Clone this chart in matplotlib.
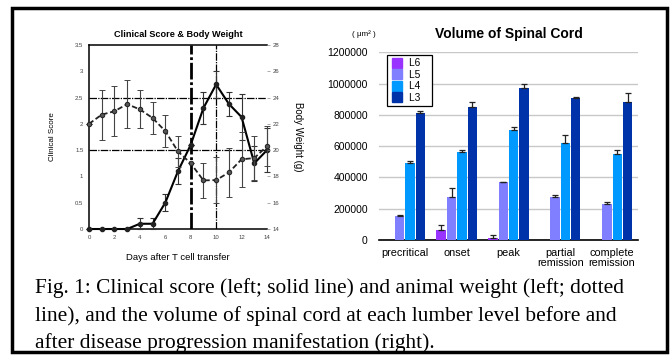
# Fig. 1: clinical score / body weight (left) and spinal cord volume (right)
import numpy as np
import matplotlib
matplotlib.use("Agg")
import matplotlib.pyplot as plt
from matplotlib.patches import Rectangle
from matplotlib.lines import Line2D

plt.rcParams["font.family"] = ["Liberation Sans", "DejaVu Sans"]

# ---- left panel data ----
days = [0, 1, 2, 3, 4, 5, 6, 7, 8, 9, 10, 11, 12, 13, 14]
score = [0, 0, 0, 0, 0.1, 0.1, 0.5, 1.1, 1.6, 2.3, 2.75, 2.38, 2.13, 1.25, 1.5]
score_err = [0, 0, 0, 0, 0.1, 0.1, 0.16, 0.25, 0.0, 0.3, 0.25, 0.23, 0.43, 0.33, 0.42]
weight = [22.0, 22.7, 22.96, 23.5, 23.1, 22.45, 21.45, 19.9, 19.0, 17.7, 17.72, 18.3, 19.3, 19.4, 20.3]
weight_err = [0, 1.9, 1.9, 1.85, 1.45, 1.2, 1.2, 1.2, 0, 1.35, 1.75, 1.9, 2.1, 1.7, 1.5]

# ---- right panel data ----
stages = ["precritical", "onset", "peak", "partial\nremission", "complete\nremission"]
levels = ["L6", "L5", "L4", "L3"]
L6 = [0, 64000, 13000, 0, 0]
L5 = [153000, 277000, 371000, 277000, 230000]
L4 = [490000, 561000, 704000, 618000, 548000]
L3 = [810000, 848000, 974000, 910000, 885000]
L6_err = [0, 30000, 19000, 0, 0]
L5_err = [5000, 58000, 3000, 8000, 13000]
L4_err = [13000, 12000, 21000, 56000, 30000]
L3_err = [17000, 32000, 22000, 3000, 57000]
colors = ["#9933ff", "#7f7fff", "#0099ff", "#0033aa"]

fig = plt.figure(figsize=(6.71, 3.56), dpi=100)

# ════════════ left: clinical score & body weight ════════════
ax = fig.add_axes([0.1326, 0.3567, 0.2653, 0.5169])
ax.set_xlim(0, 14)
ax.set_ylim(0, 3.5)
ax.set_xticks(range(0, 15, 2))
ax.set_yticks([0, 0.5, 1, 1.5, 2, 2.5, 3, 3.5])
ax.set_yticklabels(["0", "0.5", "1", "1.5", "2", "2.5", "3", "3.5"])
ax.tick_params(labelsize=4.3, labelcolor="#444", length=0, pad=4)
for s in ["left", "top", "bottom"]:
    ax.spines[s].set_linestyle((0, (3, 1)))
    ax.spines[s].set_linewidth(1.1)
ax.spines["right"].set_visible(False)
for yv in (1.5, 2.5):
    ax.axhline(yv, color="black", lw=0.9, ls=(0, (6, 1, 1, 1)), zorder=1)
ax.axvline(8, color="black", lw=2.0, ls=(0, (6, 1, 1, 1)), zorder=1)
ax.axvline(10, color="black", lw=0.9, ls=(0, (6, 1, 1, 1)), zorder=1)

ax.errorbar(days, score, yerr=score_err, color="black", lw=1.5, marker="o", ms=3.0,
            mfc="#222", mec="#222", ecolor="#333", elinewidth=0.8, capsize=2.2,
            capthick=0.8, zorder=4, clip_on=False)
ax.set_ylabel("Clinical Score", fontsize=5.8, labelpad=14)
ax.set_xlabel("Days after T cell transfer", fontsize=6.8, labelpad=10)
ax.set_title("Clinical Score & Body Weight", fontsize=6.6, fontweight="bold", pad=6)

ax2 = ax.twinx()
ax2.set_ylim(14, 28)
ax2.set_yticks(range(14, 29, 2))
ax2.tick_params(labelsize=4.3, labelcolor="#444", length=2, width=0.5, color="#888", pad=2)
for s in ax2.spines.values():
    s.set_visible(False)
ax2.errorbar(days, weight, yerr=weight_err, color="#222", lw=1.3, ls=(0, (3, 1.5)),
             marker="o", ms=3.2, mfc="#555", mec="#222", mew=0.7, ecolor="#444",
             elinewidth=0.8, capsize=2.2, capthick=0.8, zorder=3, clip_on=False)
ax2.set_ylabel("Body Weight (g)", fontsize=7, rotation=-90, labelpad=17)

# ════════════ right: volume of spinal cord ════════════
bx = fig.add_axes([0.5648, 0.3258, 0.386, 0.5272])
x = np.arange(len(stages))
vals = [L6, L5, L4, L3]
errs = [L6_err, L5_err, L4_err, L3_err]
for i in range(4):
    pos = x + (i - 1.5) * 0.2
    bx.bar(pos, vals[i], width=0.18, color=colors[i], zorder=3, label=levels[i])
    e = np.array(errs[i])
    mask = np.array(vals[i]) > 0
    bx.errorbar(pos[mask], np.array(vals[i])[mask], yerr=[np.zeros(mask.sum()), e[mask]],
                fmt="none", ecolor="#222", elinewidth=0.9, capsize=2, capthick=0.9, zorder=4)
bx.set_xlim(-0.5, 4.5)
bx.set_ylim(0, 1200000)
bx.set_yticks(range(0, 1200001, 200000))
bx.set_yticklabels([str(v) for v in range(0, 1200001, 200000)])
bx.set_xticks(x)
bx.set_xticklabels(stages, fontsize=7.8, linespacing=0.92)
bx.tick_params(axis="y", labelsize=7.5, length=0, pad=8)
bx.tick_params(axis="x", length=0, pad=6)
bx.grid(axis="y", color="#c8c8c8", lw=1.0, zorder=0)
for s in ["left", "right", "top"]:
    bx.spines[s].set_visible(False)
bx.spines["bottom"].set_linewidth(1.2)
bx.set_title("Volume of Spinal Cord", fontsize=10, fontweight="bold", pad=10)
fig.text(0.542, 0.905, "( μm² )", fontsize=5.8, ha="center", va="center")

handles = [Line2D([], [], marker="s", ms=7, color=c, ls="none", label=l + "   ")
           for c, l in zip(colors, levels)]
bx.legend(handles=handles, loc="upper left", bbox_to_anchor=(0.03, 0.985), fontsize=7.3,
          frameon=True, fancybox=False, edgecolor="black", framealpha=1,
          handlelength=1.5, handletextpad=0.4, labelspacing=0.15,
          borderpad=0.3, borderaxespad=0)
bx.get_legend().get_frame().set_linewidth(0.9)

# ════════════ caption and frame ════════════
caption = ["Fig. 1: Clinical score (left; solid line) and animal weight (left; dotted",
           "line), and the volume of spinal cord at each lumber level before and",
           "after disease progression manifestation (right)."]
for k, line in enumerate(caption):
    fig.text(0.052, 0.1756 - k * 0.0759, line, fontsize=15.4, family="Liberation Serif",
             ha="left", va="baseline")

fig.patches.append(Rectangle((12 / 671, 4 / 356), 655 / 671, 344 / 356, transform=fig.transFigure,
                             fill=False, edgecolor="black", lw=2.5))

fig.savefig("out.png", dpi=100)
